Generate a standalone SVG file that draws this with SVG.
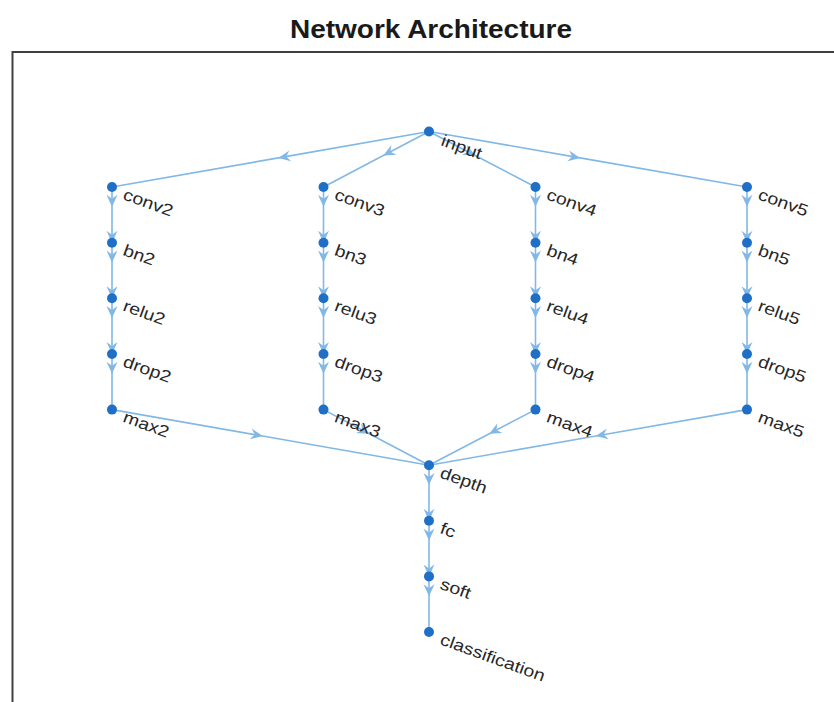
<svg xmlns="http://www.w3.org/2000/svg" width="834" height="702" viewBox="0 0 834 702">
<style>
.title{font-family:"Liberation Sans",Arial,sans-serif;font-size:25px;font-weight:bold;fill:#1a1a1a}
.lbl{font-family:"Liberation Sans",Arial,sans-serif;font-size:16.5px;fill:#262626}
.dot{fill:#1f6fc6}
.edge{fill:none;stroke:#82b8e6;stroke-width:1.6;marker-mid:url(#arr)}
.axis{fill:none;stroke:#404040;stroke-width:2}
</style>
<defs>
<marker id="arr" markerUnits="userSpaceOnUse" markerWidth="16" markerHeight="14" viewBox="-14 -7 16 14" refX="0" refY="0" orient="auto">
<path d="M0,0 L-12,-5.5 L-8,0 L-12,5.5 Z" fill="#82b8e6"/>
</marker>
</defs>
<rect width="834" height="702" fill="#ffffff"/>
<text class="title" x="431" y="37.5" text-anchor="middle" textLength="282" lengthAdjust="spacingAndGlyphs">Network Architecture</text>
<path class="axis" d="M12.5,702 V52 H834"/>
<g id="connectors">
<path class="edge" d="M429,131.5 L278.4,157.9 L112,187"/>
<path class="edge" d="M429,131.5 L383.3,155.5 L323.5,187"/>
<path class="edge" d="M429,131.5 L475.2,155.5 L535.5,187"/>
<path class="edge" d="M429,131.5 L580.1,157.9 L747,187"/>
<path class="edge" d="M112,187 L112,206.8 L112,242.7 L112,262.5 L112,298.3 L112,318.1 L112,354 L112,373.8 L112,409.6"/>
<path class="edge" d="M323.5,187 L323.5,206.8 L323.5,242.7 L323.5,262.5 L323.5,298.3 L323.5,318.1 L323.5,354 L323.5,373.8 L323.5,409.6"/>
<path class="edge" d="M535.5,187 L535.5,206.8 L535.5,242.7 L535.5,262.5 L535.5,298.3 L535.5,318.1 L535.5,354 L535.5,373.8 L535.5,409.6"/>
<path class="edge" d="M747,187 L747,206.8 L747,242.7 L747,262.5 L747,298.3 L747,318.1 L747,354 L747,373.8 L747,409.6"/>
<path class="edge" d="M112,409.6 L262.6,436 L429,465.2"/>
<path class="edge" d="M323.5,409.6 L369.2,433.7 L429,465.2"/>
<path class="edge" d="M535.5,409.6 L489.3,433.7 L429,465.2"/>
<path class="edge" d="M747,409.6 L595.9,436 L429,465.2"/>
<path class="edge" d="M429,465.2 L429,485 L429,520.8 L429,540.6 L429,576.4 L429,596.2 L429,632"/>
</g>
<g id="node-input"><circle class="dot" cx="429" cy="131.5" r="5"/><text class="lbl" transform="translate(440,145) rotate(20) scale(1.18,1)">input</text></g>
<g id="node-conv2"><circle class="dot" cx="112" cy="187" r="5"/><text class="lbl" transform="translate(122,199) rotate(20) scale(1.18,1)">conv2</text></g>
<g id="node-bn2"><circle class="dot" cx="112" cy="242.7" r="5"/><text class="lbl" transform="translate(122,254.7) rotate(20) scale(1.18,1)">bn2</text></g>
<g id="node-relu2"><circle class="dot" cx="112" cy="298.3" r="5"/><text class="lbl" transform="translate(122,310.3) rotate(20) scale(1.18,1)">relu2</text></g>
<g id="node-drop2"><circle class="dot" cx="112" cy="354" r="5"/><text class="lbl" transform="translate(122,366) rotate(20) scale(1.18,1)">drop2</text></g>
<g id="node-max2"><circle class="dot" cx="112" cy="409.6" r="5"/><text class="lbl" transform="translate(122,421.6) rotate(20) scale(1.18,1)">max2</text></g>
<g id="node-conv3"><circle class="dot" cx="323.5" cy="187" r="5"/><text class="lbl" transform="translate(333.5,199) rotate(20) scale(1.18,1)">conv3</text></g>
<g id="node-bn3"><circle class="dot" cx="323.5" cy="242.7" r="5"/><text class="lbl" transform="translate(333.5,254.7) rotate(20) scale(1.18,1)">bn3</text></g>
<g id="node-relu3"><circle class="dot" cx="323.5" cy="298.3" r="5"/><text class="lbl" transform="translate(333.5,310.3) rotate(20) scale(1.18,1)">relu3</text></g>
<g id="node-drop3"><circle class="dot" cx="323.5" cy="354" r="5"/><text class="lbl" transform="translate(333.5,366) rotate(20) scale(1.18,1)">drop3</text></g>
<g id="node-max3"><circle class="dot" cx="323.5" cy="409.6" r="5"/><text class="lbl" transform="translate(333.5,421.6) rotate(20) scale(1.18,1)">max3</text></g>
<g id="node-conv4"><circle class="dot" cx="535.5" cy="187" r="5"/><text class="lbl" transform="translate(545.5,199) rotate(20) scale(1.18,1)">conv4</text></g>
<g id="node-bn4"><circle class="dot" cx="535.5" cy="242.7" r="5"/><text class="lbl" transform="translate(545.5,254.7) rotate(20) scale(1.18,1)">bn4</text></g>
<g id="node-relu4"><circle class="dot" cx="535.5" cy="298.3" r="5"/><text class="lbl" transform="translate(545.5,310.3) rotate(20) scale(1.18,1)">relu4</text></g>
<g id="node-drop4"><circle class="dot" cx="535.5" cy="354" r="5"/><text class="lbl" transform="translate(545.5,366) rotate(20) scale(1.18,1)">drop4</text></g>
<g id="node-max4"><circle class="dot" cx="535.5" cy="409.6" r="5"/><text class="lbl" transform="translate(545.5,421.6) rotate(20) scale(1.18,1)">max4</text></g>
<g id="node-conv5"><circle class="dot" cx="747" cy="187" r="5"/><text class="lbl" transform="translate(757,199) rotate(20) scale(1.18,1)">conv5</text></g>
<g id="node-bn5"><circle class="dot" cx="747" cy="242.7" r="5"/><text class="lbl" transform="translate(757,254.7) rotate(20) scale(1.18,1)">bn5</text></g>
<g id="node-relu5"><circle class="dot" cx="747" cy="298.3" r="5"/><text class="lbl" transform="translate(757,310.3) rotate(20) scale(1.18,1)">relu5</text></g>
<g id="node-drop5"><circle class="dot" cx="747" cy="354" r="5"/><text class="lbl" transform="translate(757,366) rotate(20) scale(1.18,1)">drop5</text></g>
<g id="node-max5"><circle class="dot" cx="747" cy="409.6" r="5"/><text class="lbl" transform="translate(757,421.6) rotate(20) scale(1.18,1)">max5</text></g>
<g id="node-depth"><circle class="dot" cx="429" cy="465.2" r="5"/><text class="lbl" transform="translate(439,477.2) rotate(20) scale(1.18,1)">depth</text></g>
<g id="node-fc"><circle class="dot" cx="429" cy="520.8" r="5"/><text class="lbl" transform="translate(439,532.8) rotate(20) scale(1.18,1)">fc</text></g>
<g id="node-soft"><circle class="dot" cx="429" cy="576.4" r="5"/><text class="lbl" transform="translate(439,588.4) rotate(20) scale(1.18,1)">soft</text></g>
<g id="node-classification"><circle class="dot" cx="429" cy="632" r="5"/><text class="lbl" transform="translate(439,644) rotate(20) scale(1.18,1)">classification</text></g>
</svg>
